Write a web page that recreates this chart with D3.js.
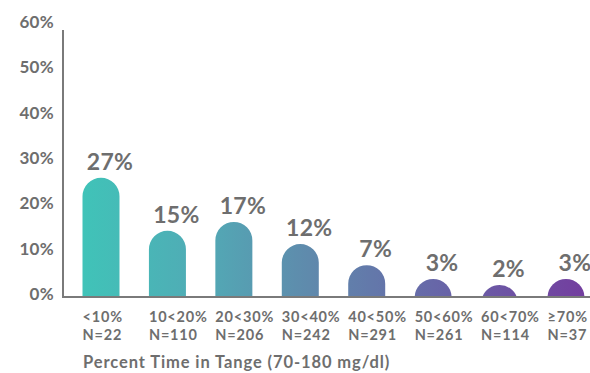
<!DOCTYPE html>
<html><head><meta charset="utf-8">
<script src="https://cdn.jsdelivr.net/npm/d3@7"></script>
<style>
html,body{margin:0;padding:0;background:#fff;}
svg{display:block;font-family:Lato,"Open Sans",sans-serif;}
</style></head>
<body><svg id="chart" width="590" height="373"></svg>
<script>
const categories = ["<10%","10<20%","20<30%","30<40%","40<50%","50<60%","60<70%","≥70%"];
const counts = ["N=22","N=110","N=206","N=242","N=291","N=261","N=114","N=37"];
const barValues = [27, 15, 17, 12, 7.2, 4.1, 2.7, 4.1];
const valueLabels = ["27%","15%","17%","12%","7%","3%","2%","3%"];
const yTicks = [0,10,20,30,40,50,60];
const xTitle = "Percent Time in Tange (70-180 mg/dl)";

const svg = d3.select("#chart");
const gray = "#6e6e6e";
const barW = 37, r = barW/2;

const x = d3.scalePoint().domain(categories).range([101, 566]);
const y = d3.scaleLinear().domain([0,60]).range([297, 32]);
const yLab = d3.scaleLinear().domain([0,60]).range([294, 22]);

// gradient
const defs = svg.append("defs");
const grad = defs.append("linearGradient").attr("id","g").attr("gradientUnits","userSpaceOnUse")
  .attr("x1", x(categories[0]) - r).attr("x2", x(categories[categories.length-1]) + r)
  .attr("y1",0).attr("y2",0);
[[0,"#40c3b8"],[0.25,"#52a9b5"],[0.45,"#5f8aac"],[0.7,"#6767a8"],[1,"#733e9f"]]
  .forEach(([o,c]) => grad.append("stop").attr("offset",o).attr("stop-color",c));

// y tick labels
const yAxis = d3.axisLeft(yLab).tickValues(yTicks).tickSize(0).tickPadding(0)
  .tickFormat(d => d + "%");
const ga = svg.append("g").attr("transform","translate(54,0)").call(yAxis);
ga.select(".domain").remove();
ga.selectAll("text").attr("fill", gray).style("font-size","17px").style("font-weight","700")
  .style("font-family","Lato,sans-serif").style("letter-spacing","0.3px");

// bars
const y0 = y(0);
function barPath(d){
  const cx = x(d.c), h = y0 - y(d.v), x0 = cx - r;
  if (h >= r) {
    return `M${x0},${y0}V${y0-h+r}A${r},${r} 0 0 1 ${x0+barW},${y0-h+r}V${y0}Z`;
  }
  const hw = Math.sqrt(r*r - (r-h)*(r-h));
  return `M${cx-hw},${y0}A${r},${r} 0 0 1 ${cx+hw},${y0}Z`;
}
const data = categories.map((c,i) => ({c, v: barValues[i], lab: valueLabels[i], n: counts[i]}));
svg.append("g").selectAll("path").data(data).join("path")
  .attr("d", barPath).attr("fill","url(#g)");

// value labels
svg.append("g").selectAll("text").data(data).join("text")
  .attr("x", d => x(d.c) + 9).attr("y", d => y(d.v) - 8)
  .attr("text-anchor","middle").attr("fill", gray)
  .style("font-size","23px").style("font-weight","700").style("letter-spacing","0.3px").text(d => d.lab);

// axes lines
svg.append("line").attr("x1",63).attr("x2",63).attr("y1",y(60)-2).attr("y2",y0+1)
  .attr("stroke","#7a7a7a").attr("stroke-width",2);
svg.append("line").attr("x1",62).attr("x2",590).attr("y1",y0).attr("y2",y0)
  .attr("stroke","#7a7a7a").attr("stroke-width",2);

// category labels
const cl = svg.append("g").selectAll("text").data(data).join("text")
  .attr("x", d => x(d.c) - r).attr("fill", gray)
  .style("font-size","14.5px").style("font-weight","700").style("letter-spacing","0.8px");
cl.append("tspan").attr("x", d => x(d.c) - r).attr("y", 322).text(d => d.c);
cl.append("tspan").attr("x", d => x(d.c) - r).attr("y", 340).text(d => d.n);

// x title
svg.append("text").attr("x", 83).attr("y", 368).attr("fill", gray)
  .style("font-size","16.5px").style("font-weight","700").style("letter-spacing","0.9px")
  .text(xTitle);
</script></body></html>
